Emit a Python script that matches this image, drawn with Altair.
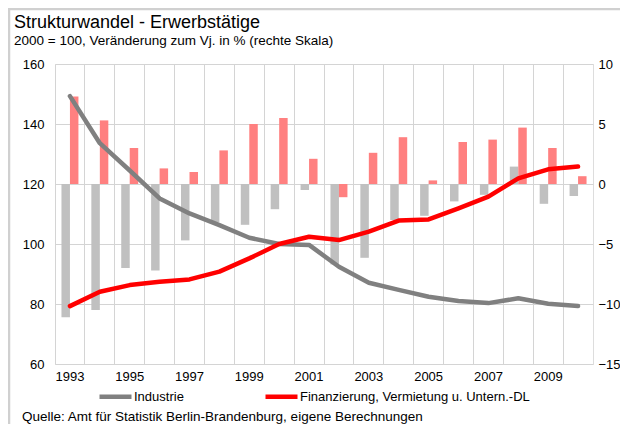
import altair as alt
import pandas as pd

years = list(range(1993, 2011))
series_names = ["Industrie", "Finanzierung, Vermietung u. Untern.-DL"]

# Index 2000 = 100 (left scale)
industrie_idx = [149.3, 133.6, 124.5, 115.2, 110.2, 106.3, 102.1, 100.0, 99.7,
                 92.4, 87.1, 84.7, 82.4, 81.0, 80.3, 81.9, 80.1, 79.3]
finanz_idx = [79.3, 84.1, 86.3, 87.4, 88.2, 90.8, 95.2, 100.0, 102.4,
              101.3, 104.1, 107.8, 108.2, 111.9, 115.8, 121.9, 124.9, 125.8]

# Change vs previous year in % (right scale)
industrie_chg = [-11.1, -10.5, -7.0, -7.2, -4.7, -3.2, -3.4, -2.1, -0.5,
                 -6.7, -6.15, -3.0, -2.65, -1.45, -0.9, 1.45, -1.65, -1.0]
finanz_chg = [7.3, 5.3, 3.0, 1.3, 1.0, 2.8, 5.0, 5.5, 2.1,
              -1.1, 2.6, 3.9, 0.3, 3.5, 3.7, 4.7, 3.0, 0.65]

left_ticks = [60, 80, 100, 120, 140, 160]
right_ticks = [-15, -10, -5, 0, 5, 10]

title_text = "Strukturwandel - Erwerbstätige"
subtitle_text = "2000 = 100, Veränderung zum Vj. in % (rechte Skala)"
source_text = "Quelle: Amt für Statistik Berlin-Brandenburg, eigene Berechnungen"

line_colors = ["#808080", "#ff0000"]
bar_colors = ["#c0c0c0", "#ff8080"]

FONT = "Liberation Sans, Arial, Helvetica, sans-serif"

df_idx = pd.DataFrame({
    "year": years * 2,
    "series": [series_names[0]] * len(years) + [series_names[1]] * len(years),
    "value": industrie_idx + finanz_idx,
})
df_chg = pd.DataFrame({
    "year": years * 2,
    "bseries": [series_names[0]] * len(years) + [series_names[1]] * len(years),
    "value": industrie_chg + finanz_chg,
})

x_axis = alt.Axis(
    title=None, grid=True, gridColor="#d4d4d4", gridWidth=1, ticks=False,
    domain=False, bandPosition=0, labelAngle=0,
    labelPadding=6, labelFontSize=13, labelColor="#000000", labelFont=FONT,
    labelExpr="datum.value % 2 == 1 ? datum.label : ''",
)
x_enc = alt.X("year:O", axis=x_axis, scale=alt.Scale(paddingInner=0, paddingOuter=0))

bars = alt.Chart(df_chg).mark_bar().encode(
    x=x_enc,
    xOffset=alt.XOffset("bseries:N", sort=series_names,
                        scale=alt.Scale(domain=series_names, paddingInner=0, paddingOuter=0.76)),
    y=alt.Y("value:Q", scale=alt.Scale(domain=[-15, 10], nice=False, zero=False),
            axis=alt.Axis(orient="right", title=None, values=right_ticks, grid=False,
                          ticks=False, domain=False, labelPadding=5, labelFontSize=13,
                          labelColor="#000000", labelFont=FONT)),
    color=alt.Color("bseries:N", scale=alt.Scale(domain=series_names, range=bar_colors),
                    legend=None),
)

lines = alt.Chart(df_idx).mark_line(strokeWidth=4.5, strokeCap="round", strokeJoin="round").encode(
    x=x_enc,
    y=alt.Y("value:Q", scale=alt.Scale(domain=[60, 160], nice=False, zero=False),
            axis=alt.Axis(orient="left", title=None, values=left_ticks, grid=True,
                          gridColor="#d4d4d4", ticks=False, domain=False, labelPadding=11,
                          labelFontSize=13, labelColor="#000000", labelFont=FONT)),
    color=alt.Color("series:N", sort=series_names,
                    scale=alt.Scale(domain=series_names, range=line_colors),
                    legend=alt.Legend(title=None, orient="none", legendX=42, legendY=314,
                                      direction="horizontal", symbolType="stroke",
                                      symbolSize=1024, symbolStrokeWidth=4.5,
                                      labelOffset=0, columnPadding=72, padding=0,
                                      labelLimit=0,
                                      labelFontSize=13, labelFont=FONT, labelColor="#000000")),
)

def text_layer(txt, x, y, size):
    return alt.Chart(pd.DataFrame({"t": [txt]})).mark_text(
        align="left", baseline="alphabetic", fontSize=size, font=FONT, color="#000000"
    ).encode(text="t:N", x=alt.value(x), y=alt.value(y))

title_l = text_layer(title_text, -41, -36, 18)
subtitle_l = text_layer(subtitle_text, -41, -19, 13.5)
source_l = text_layer(source_text, -33, 357, 13.5)

frame_top = alt.Chart(pd.DataFrame({"k": [0]})).mark_rule(color="#d0d0d0", strokeWidth=2.5).encode(
    x=alt.value(-47), x2=alt.value(565), y=alt.value(-55))
frame_left = alt.Chart(pd.DataFrame({"k": [0]})).mark_rule(color="#d0d0d0", strokeWidth=2.5).encode(
    x=alt.value(-46), y=alt.value(-55), y2=alt.value(360))

chart = alt.layer(bars, lines, title_l, subtitle_l, source_l, frame_top, frame_left).resolve_scale(
    y="independent", color="independent"
).properties(
    width=538, height=300,
    autosize=alt.AutoSizeParams(type="none"),
    padding={"left": 47, "top": 56, "right": 27, "bottom": 60},
).configure_view(stroke="#bdbdbd", strokeWidth=1.2).configure(background="white")

chart.save("out.html", embed_options={"renderer": "svg", "actions": False})
